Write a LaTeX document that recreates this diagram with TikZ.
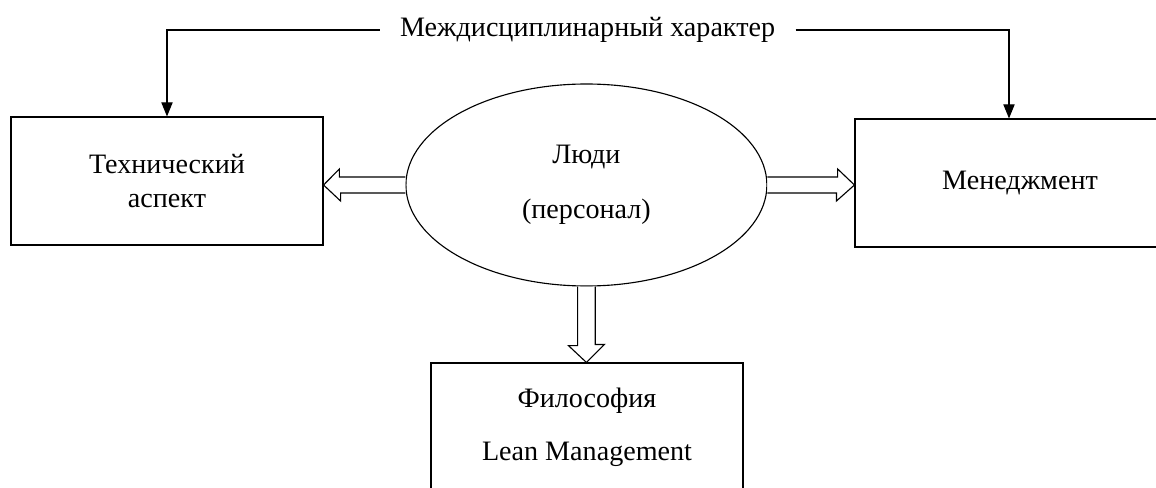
\documentclass[tikz,border=0pt]{standalone}
\usepackage{fontspec}
\setmainfont{Liberation Serif}
\usetikzlibrary{positioning, arrows.meta, shapes.geometric}

\begin{document}
\begin{tikzpicture}[font=\fontsize{20}{24}\selectfont, line width=0.8pt,
        box/.style={rectangle, draw, minimum width=7.8cm, minimum height=3.2cm, align=center},
        hollow/.style={draw, fill=white, line join=miter},
        thin arrow/.style={-{Triangle[length=10pt, width=8pt]}}]
        \useasboundingbox (0,0) rectangle (28.9,12.175);
        \clip (0,0) rectangle (28.9,12.175);

        % Nodes
        \node[ellipse, draw, minimum width=9.025cm, minimum height=5.05cm, align=center] (ppl) at (14.66,7.55) {Люди\\[15pt](персонал)};
        \node[box] (tech) at (4.175,7.65) {Технический\\аспект};
        \node[box, minimum width=8.25cm] (mgmt) at (25.5,7.6) {Менеджмент};
        \node[box] (lean) at (14.675,1.5) {Философия\\[14pt]Lean Management};
        \node[inner xsep=0.5cm] (title) at (14.69,11.425) {Междисциплинарный характер};

        % Edges
        \draw[thin arrow] (title.west) -| (tech.north);
        \draw[thin arrow] (title.east) -| ([xshift=-0.275cm]mgmt.north);

        % Hollow arrows
        \draw[hollow] ([yshift=0.2cm]ppl.west) -- ++(-1.65,0) -- ++(0,0.2) -- (tech.east |- ppl.west) -- ++(0.425,-0.4) -- ++(0,0.2) -- ([yshift=-0.2cm]ppl.west);
        \draw[hollow] ([yshift=0.2cm]ppl.east) -- ++(1.755,0) -- ++(0,0.2) -- (mgmt.west |- ppl.east) -- ++(-0.45,-0.4) -- ++(0,0.2) -- ([yshift=-0.2cm]ppl.east);
        \draw[hollow] ([xshift=-0.22cm]ppl.south) -- ++(0,-1.475) -- ++(-0.23,0) -- (lean.north -| ppl.south) -- ++(0.45,0.45) -- ++(-0.23,0) -- ([xshift=0.22cm]ppl.south);
    \end{tikzpicture}
\end{document}
